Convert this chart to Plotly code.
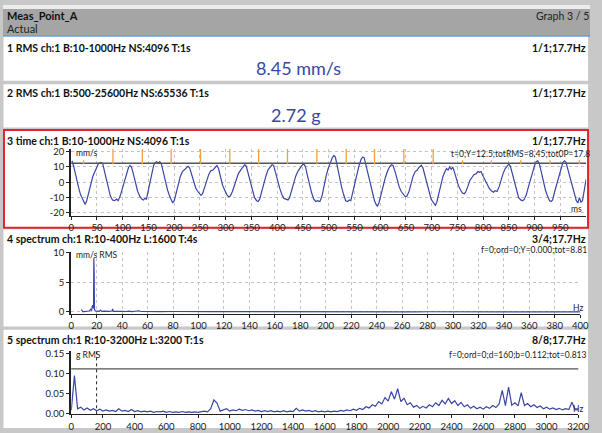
import plotly.graph_objects as go

# ---------------- data ----------------
# panel 3: time waveform (ms, mm/s)
T3 = [0, 2, 5, 10, 14, 18, 22, 25, 27, 30, 34, 38, 42, 46, 50, 53, 57, 61,
      64, 68, 72, 76, 80, 84, 88, 91, 95, 99, 103, 107, 111, 114,
      117, 121, 125, 129, 133, 137, 140, 143, 146, 149, 153, 157, 160, 163, 166, 169, 172,
      175, 179, 183, 187, 191, 194, 197, 200, 204, 208, 212, 216, 220, 224, 227,
      230, 234, 238, 242, 246, 250, 252, 255, 259, 263, 267, 271, 275, 279, 283,
      286, 290, 294, 298, 302, 306, 309, 313, 317, 321, 325, 329, 333, 337,
      340, 344, 348, 352, 356, 360, 363, 366, 370, 374, 378, 382, 386, 390,
      393, 397, 401, 405, 409, 413, 417, 421, 424, 428, 432, 436, 440, 444, 448, 452,
      455, 459, 463, 467, 471, 475, 479, 483, 487, 491, 495, 499, 503, 507, 510,
      513, 517, 521, 525, 529, 533, 537, 540, 543, 547, 551, 555, 559, 563, 566,
      569, 573, 577, 581, 585, 589, 593, 595, 598, 602, 606, 610, 614, 618, 622,
      625, 629, 633, 637, 641, 645, 649, 652, 656, 660, 664, 668, 672, 676, 680,
      683, 687, 691, 695, 699, 703, 707, 710, 714, 718, 722, 726, 729, 732, 735, 738, 741,
      744, 748, 752, 756, 760, 763, 766, 770, 774, 778, 782, 786, 790, 793, 796,
      800, 804, 808, 812, 816, 820, 823, 827, 831, 835, 839, 843, 847, 850,
      853, 857, 861, 865, 869, 873, 877, 880, 884, 888, 892, 896, 900, 903, 906,
      909, 913, 917, 921, 925, 929, 932, 935, 939, 943, 947, 951, 955, 958,
      961, 965, 969, 973, 977, 981, 984, 987, 990, 993, 996, 1000]
V3 = [13.0, 13.5, 10, 2, -3, -8, -11.5, -13.5, -14.5, -12, -6, -1, 4, 7, 11, 12.5, 12.8, 12.5,
      8, 2, -4, -9, -11.5, -12, -11, -12, -9, -4, 1, 6, 9.5, 11,
      10, 5, -1, -6, -9, -11, -11.5, -10.5, -11, -6, 0, 6, 11, 13, 13.5, 12.5, 13.5,
      12, 6, 0, -5, -9, -12, -13.5, -12, -6, 0, 4, 7, 8.5, 9.5, 10.5,
      9.5, 5, -1, -4, -6, -8, -8.5, -7.5, -3, 2, 5, 7.5, 8, 9.5, 11,
      9, 3, -2, -5, -8, -9.5, -9, -6, -2, 3, 6, 8, 10, 11.5,
      10.5, 5, -1, -6, -10, -12, -12.5, -11, -6, 0, 4, 8, 10, 11.5,
      11, 6, 0, -4, -8, -10.5, -11, -11.5, -10, -5, 0, 4, 7, 9, 11, 12,
      10, 4, -2, -7, -11, -12.5, -12, -12.5, -9, -2, 4, 9, 13, 16, 17.5,
      16.5, 10, 3, -3, -8, -12, -12.5, -11.5, -12, -6, 0, 6, 11, 15, 16.5,
      16, 10, 4, -2, -7, -12, -15, -15.5, -13, -7, -2, 3, 7, 10, 11.5,
      11, 7, 2, -3, -6, -8, -9.5, -9, -6, -1, 4, 7, 8, 10, 11,
      9.5, 4, -2, -7, -11, -13, -15, -13, -7, -1, 4, 7, 9, 8, 10, 8.5, 10,
      7, 2, -2, -5, -7, -7.5, -6.5, -3, 1, 3, 5, 5.5, 7, 6.5, 7,
      4, 1, -2, -4, -5.5, -6.5, -5.5, -6, -3, 2, 6, 9, 11, 12,
      10.5, 5, -1, -6, -10, -11.5, -12, -11, -8, -3, 2, 7, 11, 13.5, 14,
      12.5, 6, 0, -5, -9, -12, -12.5, -11.5, -6, -1, 4, 9, 13, 14,
      13, 8, 3, -2, -7, -12, -13.5, -10, -13, -12, -6, 2]
TACH_T = [24, 81, 138, 194, 251, 308, 364, 420, 477, 534, 589, 646, 703, 760, 816, 873, 930, 987]
TACH_LONG = [False, True, True, True, True, True, True, True, True, True, True, True, True,
             False, False, False, False, False]
CURSOR_Y3 = 12.5
X3_TICKS = [0, 50, 100, 150, 200, 250, 300, 350, 400, 450, 500, 550, 600, 650, 700, 750, 800, 850, 900, 950]
Y3_TICKS = [-20, -10, 0, 10, 20]

# panel 4: spectrum 10-400 Hz (Hz, mm/s RMS)
F4 = [8, 9, 10, 12, 14, 15.25, 16, 16.5, 17.0, 17.5, 17.75, 18.0, 18.25, 18.75, 20, 22, 23, 24, 26, 28, 30,
      32, 32.5, 33, 35, 38, 40, 43, 45, 48, 50, 53, 55, 58,
      60, 70, 80, 90, 100, 110, 120, 130, 140, 150, 160, 170, 180, 190, 200, 210, 220, 230,
      240, 250, 260, 270, 280, 290, 300, 310, 320, 330, 340, 350, 360, 370, 380, 390, 400]
V4 = [0.4, 0.05, 0.05, 0.1, 0.15, 0.45, 0.2, 1.0, 1.1, 0.6, 9.1, 6.8, 0.5, 0.2, 0.12, 0.1, 0.3, 0.1, 0.15, 0.08, 0.1,
      0.15, 0.5, 0.1, 0.12, 0.08, 0.1, 0.07, 0.12, 0.06, 0.08, 0.2, 0.07, 0.05,
      0.08, 0.06, 0.07, 0.1, 0.05, 0.06, 0.05, 0.04, 0.05, 0.04, 0.03, 0.04, 0.03, 0.04, 0.03, 0.03, 0.04, 0.03,
      0.03, 0.02, 0.03, 0.02, 0.03, 0.02, 0.03, 0.02, 0.02, 0.03, 0.02, 0.02, 0.02, 0.03, 0.02, 0.02, 0.02]
X4_TICKS = list(range(0, 401, 20))
Y4_TICKS = [0, 5, 10]

# panel 5: spectrum 10-3200 Hz (Hz, g RMS), one value per 20 Hz line
F5 = list(range(0, 3201, 20))
V5 = [0.008, 0.095, 0.012, 0.016, 0.009, 0.014, 0.008, 0.012, 0.007, 0.011,
      0.006, 0.009, 0.006, 0.008, 0.005, 0.012, 0.006, 0.008, 0.005, 0.010,
      0.005, 0.007, 0.004, 0.006, 0.004, 0.006, 0.003, 0.005, 0.004, 0.006,
      0.003, 0.005, 0.003, 0.004, 0.003, 0.005, 0.003, 0.004, 0.003, 0.004,
      0.003, 0.005, 0.006, 0.004, 0.012, 0.034, 0.026, 0.006, 0.010, 0.012,
      0.006, 0.009, 0.007, 0.011, 0.008, 0.010, 0.007, 0.009, 0.006, 0.008,
      0.005, 0.007, 0.005, 0.007, 0.004, 0.006, 0.004, 0.007, 0.004, 0.006,
      0.005, 0.013, 0.006, 0.009, 0.006, 0.008, 0.005, 0.007, 0.004, 0.006,
      0.004, 0.006, 0.004, 0.006, 0.005, 0.008, 0.006, 0.009, 0.007, 0.011,
      0.008, 0.013, 0.010, 0.017, 0.014, 0.022, 0.018, 0.030, 0.024, 0.040,
      0.031, 0.055, 0.036, 0.062, 0.030, 0.038, 0.022, 0.027, 0.016, 0.020,
      0.013, 0.018, 0.014, 0.022, 0.017, 0.027, 0.020, 0.033, 0.024, 0.038,
      0.025, 0.032, 0.020, 0.028, 0.017, 0.022, 0.013, 0.018, 0.012, 0.016,
      0.011, 0.017, 0.013, 0.020, 0.015, 0.024, 0.058, 0.020, 0.066, 0.021,
      0.027, 0.019, 0.052, 0.020, 0.025, 0.017, 0.022, 0.015, 0.019, 0.012,
      0.016, 0.011, 0.014, 0.010, 0.013, 0.009, 0.012, 0.010, 0.028, 0.009,
      0.010]
CURSOR_F5 = 160
CURSOR_B5 = 0.112
X5_TICKS = list(range(0, 3201, 200))
Y5_TICKS = [0.0, 0.05, 0.10, 0.15]

# ---------------- layout helpers ----------------
W, H = 602, 433
FONT = "Lato"
BLUE = "#3a46a6"


def px(x):
    return x / W


def py(y):
    return 1 - y / H


def txt(x, y, s, size=10.5, bold=False, anchor="left", color="#111111"):
    return dict(x=px(x), y=py(y), xref="paper", yref="paper",
                text=f"<b>{s}</b>" if bold else s, showarrow=False,
                xanchor=anchor, yanchor="middle",
                font=dict(size=size, color=color, family=FONT))


def rect(x0, y0, x1, y1, fill, line=None, lw=0):
    return dict(type="rect", xref="paper", yref="paper", layer="below",
                x0=px(x0), x1=px(x1), y0=py(y1), y1=py(y0),
                fillcolor=fill, line=dict(width=lw, color=line or fill))


fig = go.Figure()
fig.add_trace(go.Scatter(x=T3, y=V3, mode="lines", xaxis="x", yaxis="y",
                         line=dict(color=BLUE, width=1.2), hoverinfo="skip"))
fig.add_trace(go.Scatter(x=F4, y=V4, mode="lines", xaxis="x2", yaxis="y2",
                         line=dict(color=BLUE, width=1.2), hoverinfo="skip"))
fig.add_trace(go.Scatter(x=F5, y=V5, mode="lines", xaxis="x3", yaxis="y3",
                         line=dict(color=BLUE, width=1.2), hoverinfo="skip"))

axis_common = dict(showline=True, linecolor="#222222", ticks="outside", ticklen=3,
                   tickcolor="#222222", tickfont=dict(size=9.5, color="#222222", family=FONT),
                   zeroline=False, fixedrange=True)
grid = dict(showgrid=True, gridcolor="#c4c4c4", griddash="dot", gridwidth=1)

shapes = [
    rect(0, 0, 602, 4, "#ececec"),
    rect(0, 4, 602, 31, "#a5a5a5"),
    rect(0, 31, 602, 32.5, "#5b95d0"),
    rect(0.5, 32.5, 600, 77.5, "white"),
    rect(0.5, 81, 600, 125.5, "white"),
    rect(1, 128, 600, 228, "white", "#e0262c", 2),
    rect(0.5, 229.5, 600, 329, "white"),
    rect(0.5, 332.5, 600, 433, "white"),
]
# panel 3 cursor & tach markers
shapes.append(dict(type="line", xref="x domain", yref="y", x0=0, x1=1, y0=CURSOR_Y3, y1=CURSOR_Y3,
                   line=dict(color="#555555", width=1.5)))
for t, lg in zip(TACH_T, TACH_LONG):
    shapes.append(dict(type="line", xref="x", yref="y", x0=t, x1=t, y0=11.8,
                       y1=21.8 if lg else 14.4, line=dict(color="#f0a040", width=1.3)))
# panel 5 cursors
shapes.append(dict(type="line", xref="x3 domain", yref="y3", x0=0, x1=1, y0=CURSOR_B5, y1=CURSOR_B5,
                   line=dict(color="#555555", width=1.3)))
shapes.append(dict(type="line", xref="x3", yref="y3 domain", x0=CURSOR_F5, x1=CURSOR_F5, y0=0, y1=1,
                   line=dict(color="#222222", width=1, dash="dot")))

annotations = [
    txt(2, 11, "Meas_Point_A", 11, True),
    txt(2, 24, "Actual", 11, False, color="#222222"),
    txt(603, 11, "Graph 3 / 5", 10.5, False, "right", "#222222"),
    txt(2, 44, "1 RMS ch:1 B:10-1000Hz NS:4096 T:1s", 10.5, True),
    txt(600, 44, "1/1;17.7Hz", 10.5, True, "right"),
    txt(303, 65, "8.45 mm/s", 18, False, "center", BLUE),
    txt(2, 90, "2 RMS ch:1 B:500-25600Hz NS:65536 T:1s", 10.5, True),
    txt(600, 90, "1/1;17.7Hz", 10.5, True, "right"),
    txt(300, 113, "2.72 g", 18, False, "center", BLUE),
    txt(2, 139, "3 time ch:1 B:10-1000Hz NS:4096 T:1s", 10.5, True),
    txt(600, 139, "1/1;17.7Hz", 10.5, True, "right"),
    txt(604, 153, "t=0;Y=12.5;totRMS=8.45;tot0P=17.8", 8.5, False, "right", "#222222"),
    txt(73, 152, "mm/s", 8.5, False, "left", "#222222"),
    txt(596, 209, "ms", 8.5, False, "right", "#222222"),
    txt(2, 240, "4 spectrum ch:1 R:10-400Hz L:1600 T:4s", 10.5, True),
    txt(600, 240, "3/4;17.7Hz", 10.5, True, "right"),
    txt(601, 251, "f=0;ord=0;Y=0.000;tot=8.81", 8.5, False, "right", "#222222"),
    txt(73, 256, "mm/s RMS", 8.5, False, "left", "#222222"),
    txt(597, 310, "Hz", 8.5, False, "right", "#222222"),
    txt(2, 343, "5 spectrum ch:1 R:10-3200Hz L:3200 T:1s", 10.5, True),
    txt(600, 343, "8/8;17.7Hz", 10.5, True, "right"),
    txt(601, 358, "f=0;ord=0;d=160;b=0.112;tot=0.813", 8.5, False, "right", "#222222"),
    txt(73, 358, "g RMS", 8.5, False, "left", "#222222"),
    txt(597, 414, "Hz", 8.5, False, "right", "#222222"),
]

fig.update_layout(
    width=W, height=H, margin=dict(l=0, r=0, t=0, b=0),
    paper_bgcolor="#c8c8c8", plot_bgcolor="rgba(0,0,0,0)",
    showlegend=False, font=dict(family=FONT, size=10, color="#222222"),
    xaxis=dict(domain=[px(70), px(598)], anchor="y", range=[0, 1000], tickvals=X3_TICKS,
               linewidth=1, **axis_common, **grid),
    yaxis=dict(domain=[py(216), py(147)], anchor="x", range=[-22, 22], tickvals=Y3_TICKS,
               ticktext=["-20", "-10", "0", "10", "20"],
               linewidth=2, **axis_common, **grid),
    xaxis2=dict(domain=[px(70), px(592)], anchor="y2", range=[0, 400], tickvals=X4_TICKS,
                linewidth=1, **axis_common, **grid),
    yaxis2=dict(domain=[py(316), py(253)], anchor="x2", range=[-0.3, 10.1], tickvals=Y4_TICKS,
                linewidth=2, **axis_common, **grid),
    xaxis3=dict(domain=[px(70), px(590)], anchor="y3", range=[0, 3200], tickvals=X5_TICKS,
                linewidth=1, showgrid=False, **axis_common),
    yaxis3=dict(domain=[py(419), py(354)], anchor="x3", range=[-0.002, 0.157], tickvals=Y5_TICKS,
                tickformat=".2f", linewidth=2, showgrid=False, **axis_common),
    shapes=shapes, annotations=annotations,
)

fig.write_html("out.html", config={"displayModeBar": False},
               post_script="document.body.style.margin='0px';")
